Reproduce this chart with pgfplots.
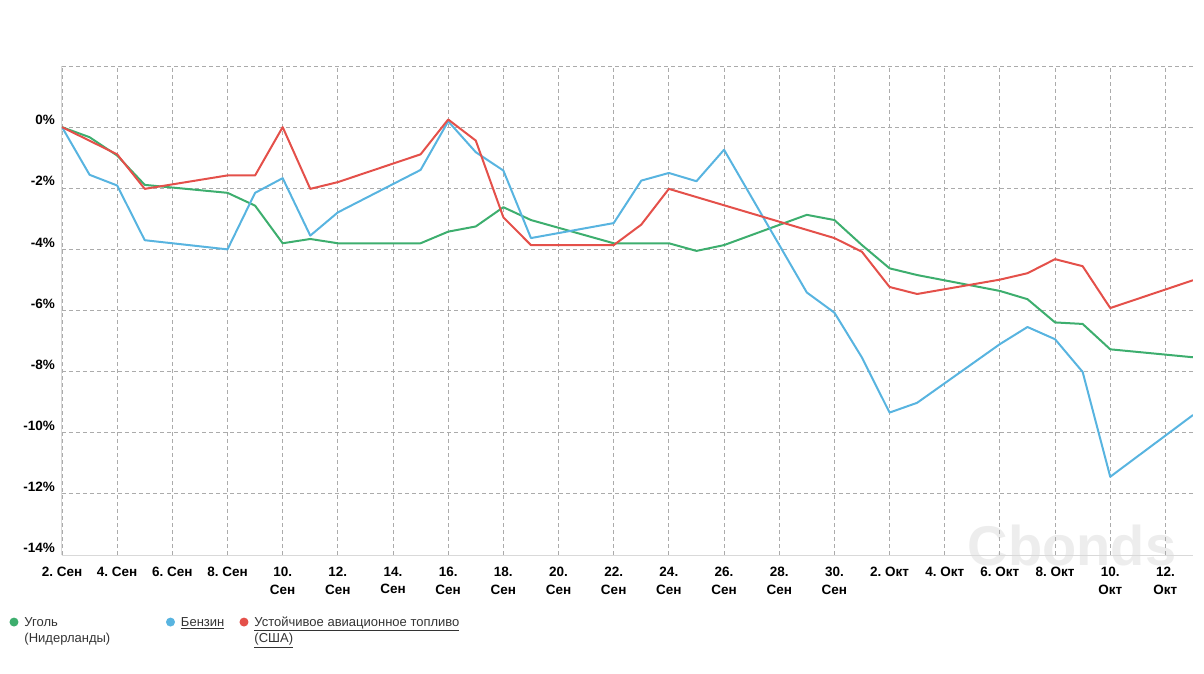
\documentclass[border=0pt]{standalone}
\usepackage{fontspec}
\setmainfont{Liberation Sans}
\usepackage{pgfplots}
\pgfplotsset{compat=1.18}
\frenchspacing

\definecolor{cgreen}{HTML}{3DAE6E}
\definecolor{cblue}{HTML}{58B4E0}
\definecolor{cred}{HTML}{E4504A}
\definecolor{gridc}{HTML}{ABABAB}
\definecolor{legtext}{HTML}{333333}

\begin{document}
\begin{tikzpicture}
% page = 1204 x 673, axis box at (62,555)-(1193,66) in px
\path[use as bounding box] (-62pt,-118pt) rectangle (1142pt,555pt);
\node[anchor=base, text=black!7, font=\fontsize{56}{56}\selectfont\bfseries, inner sep=0pt] at (1010pt,-10pt) {Cbonds};
\begin{axis}[
    scale only axis, width=1131pt, height=489pt,
    at={(0pt,0pt)}, anchor=south west,
    xmin=0, xmax=41, ymin=-14, ymax=2,
    axis lines*=left,
    axis line style={draw=black!15, line width=1pt},
    major tick length=0pt,
    grid=major,
    major grid style={draw=gridc, line width=0.8pt, dash pattern=on 4pt off 3pt},
    xtick={0,2,...,40},
    xticklabels={2. Сен, 4. Сен, 6. Сен, 8. Сен, {10.\\Сен}, {12.\\Сен}, {14.\\Сен},
        {16.\\Сен}, {18.\\Сен}, {20.\\Сен}, {22.\\Сен}, {24.\\Сен}, {26.\\Сен},
        {28.\\Сен}, {30.\\Сен}, 2. Окт, 4. Окт, 6. Окт, 8. Окт, {10.\\Окт}, {12.\\Окт}},
    xticklabel style={align=center, font=\fontsize{13.5}{17.5}\selectfont\bfseries,
        anchor=north, inner sep=0pt, yshift=-12pt},
    ytick={-14,-12,...,2},
    yticklabels={-14\%, -12\%, -10\%, -8\%, -6\%, -4\%, -2\%, 0\%, },
    yticklabel style={font=\fontsize{13.5}{16}\selectfont\bfseries,
        anchor=south east, inner sep=0pt, xshift=-7pt, yshift=2pt},
    legend style={at={(0,0)}, anchor=north west, xshift=-52.5pt, yshift=-62pt,
        draw=none, fill=none, legend columns=3, inner sep=0pt, outer sep=0pt,
        font=\fontsize{13}{16}\selectfont, text=legtext,
        nodes={inner sep=0pt, anchor=base west},
        column sep=0pt},
    legend image code/.code={
        \path[draw=none, fill=none] (0pt,0pt) rectangle (15pt,1pt);
        \fill[draw=none] (4.5pt,4.6pt) circle (4.5pt);
    },
]
\addplot[color=cgreen, line width=2pt, line join=round] coordinates {
 (0,0) (1,-0.33) (2,-0.93) (3,-1.89) (6,-2.15) (7,-2.57) (8,-3.80) (9,-3.66)
 (10,-3.80) (13,-3.80) (14,-3.42) (15,-3.25) (16,-2.62) (17,-3.04) (20,-3.80)
 (21,-3.80) (22,-3.80) (23,-4.05) (24,-3.86) (27,-2.87) (28,-3.04) (29,-3.86)
 (30,-4.62) (31,-4.84) (34,-5.36) (35,-5.63) (36,-6.39) (37,-6.44) (38,-7.27)
 (41,-7.53)};
\addlegendentry{\parbox[t]{141.5pt}{Уголь\\(Нидерланды)}}
\addplot[color=cblue, line width=2pt, line join=round] coordinates {
 (0,0) (1,-1.56) (2,-1.91) (3,-3.70) (6,-4.00) (7,-2.15) (8,-1.67) (9,-3.55)
 (10,-2.79) (13,-1.40) (14,0.19) (15,-0.82) (16,-1.42) (17,-3.63) (20,-3.14)
 (21,-1.75) (22,-1.50) (23,-1.77) (24,-0.74) (27,-5.41) (28,-6.07) (29,-7.54)
 (30,-9.34) (31,-9.02) (34,-7.10) (35,-6.54) (36,-6.94) (37,-8.01) (38,-11.44)
 (41,-9.42)};
\addlegendentry{\parbox[t]{58.5pt}{\underline{Бензин}}}
\addplot[color=cred, line width=2pt, line join=round] coordinates {
 (0,0) (2,-0.89) (3,-2.02) (6,-1.58) (7,-1.58) (8,0) (9,-2.02) (10,-1.80)
 (13,-0.89) (14,0.25) (15,-0.44) (16,-2.95) (17,-3.86) (20,-3.86) (21,-3.19)
 (22,-2.02) (28,-3.63) (29,-4.08) (30,-5.23) (31,-5.46) (34,-4.99) (35,-4.78)
 (36,-4.32) (37,-4.55) (38,-5.92) (41,-5.01)};
\addlegendentry{\parbox[t]{220pt}{\underline{Устойчивое авиационное топливо}\\\underline{(США)}}}
\end{axis}
\end{tikzpicture}
\end{document}
